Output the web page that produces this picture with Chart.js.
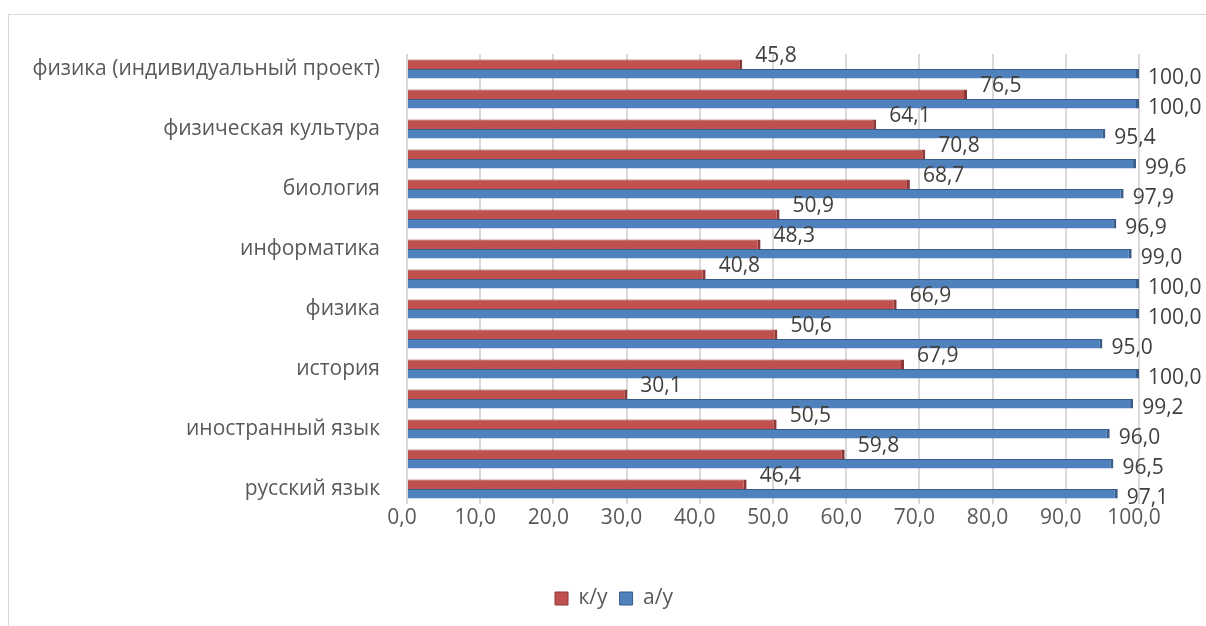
<!DOCTYPE html>
<html>
<head>
<meta charset="utf-8">
<script src="https://cdn.jsdelivr.net/npm/chart.js@4.4.1/dist/chart.umd.min.js"></script>
<style>
  html, body { margin: 0; padding: 0; background: #fff; }
  #wrap { width: 1206px; height: 626px; position: relative; }
</style>
</head>
<body>
<div id="wrap"><canvas id="chart" width="1206" height="626"></canvas></div>
<script>
// Категории снизу вверх (подписаны через одну, как в исходнике)
const categories = [
    'русский язык', '', 'иностранный язык', '', 'история', '', 'физика', '',
    'информатика', '', 'биология', '', 'физическая культура', '', 'физика (индивидуальный проект)'
];
const kuValues = [46.4, 59.8, 50.5, 30.1, 67.9, 50.6, 66.9, 40.8, 48.3, 50.9, 68.7, 70.8, 64.1, 76.5, 45.8];
const auValues = [97.1, 96.5, 96.0, 99.2, 100.0, 95.0, 100.0, 100.0, 99.0, 96.9, 97.9, 99.6, 95.4, 100.0, 100.0];
const seriesNames = ['к/у', 'а/у'];

const FONT = '"Open Sans", "Noto Sans", sans-serif';
const FSIZE = 21;
const fmt = v => Number(v).toFixed(1).replace('.', ',');

// рамка вокруг диаграммы
const framePlugin = {
    id: 'frame',
    beforeDraw(chart) {
        const c = chart.ctx;
        c.save();
        c.strokeStyle = '#d9d9d9';
        c.lineWidth = 1;
        c.strokeRect(8.5, 14.5, 1400, 800);
        c.restore();
    }
};

// подписи значений у концов столбиков
const valueLabels = {
    id: 'valueLabels',
    afterDatasetsDraw(chart) {
        const c = chart.ctx;
        c.save();
        c.font = FSIZE + 'px ' + FONT;
        c.fillStyle = '#404040';
        c.textBaseline = 'middle';
        c.textAlign = 'left';
        chart.data.datasets.forEach((ds, i) => {
            const meta = chart.getDatasetMeta(i);
            meta.data.forEach((el, j) => {
                const dx = i === 0 ? 13 : 9;
                const dy = i === 0 ? -8 : 4;
                c.fillText(fmt(ds.data[j]), el.x + dx, el.y + dy);
            });
        });
        c.restore();
    }
};

new Chart(document.getElementById('chart'), {
    type: 'bar',
    data: {
        labels: categories,
        datasets: [{
            label: seriesNames[0],
            data: kuValues,
            yAxisID: 'y',
            backgroundColor: '#c0504d',
            borderColor: '#8c3836',
            borderWidth: { top: 1, right: 3, bottom: 0, left: 0 },
            borderSkipped: false
        }, {
            label: seriesNames[1],
            data: auValues,
            yAxisID: 'y',
            backgroundColor: '#4f81bd',
            borderColor: '#385d8a',
            borderWidth: { top: 1, right: 3, bottom: 0, left: 0 },
            borderSkipped: false
        }]
    },
    options: {
        indexAxis: 'y',
        responsive: false,
        animation: false,
        devicePixelRatio: 1,
        categoryPercentage: 0.63,
        barPercentage: 1,
        layout: { padding: { top: 54, right: 0, bottom: 7, left: 22 } },
        scales: {
            x: {
                min: 0,
                max: 100,
                ticks: {
                    stepSize: 10,
                    callback: v => fmt(v),
                    color: '#595959',
                    font: { family: FONT, size: FSIZE },
                    padding: 1,
                    labelOffset: -5,
                    maxRotation: 0
                },
                grid: { color: '#d9d9d9', lineWidth: 2, drawTicks: false },
                border: { display: false },
                afterFit: s => { s.height = 72; }
            },
            y: {
                reverse: true,
                ticks: {
                    autoSkip: false,
                    color: '#595959',
                    font: { family: FONT, size: FSIZE },
                    padding: 27
                },
                grid: { display: false, drawTicks: false },
                border: { display: false },
                afterFit: s => { s.width = 385; }
            },
            // пустое поле справа под подписи значений
            yRight: {
                type: 'linear',
                position: 'right',
                ticks: { display: false },
                grid: { display: false, drawTicks: false },
                border: { display: false },
                afterFit: s => { s.width = 67; }
            }
        },
        plugins: {
            legend: {
                position: 'bottom',
                labels: {
                    boxWidth: 13,
                    boxHeight: 13,
                    padding: 12,
                    color: '#595959',
                    font: { family: FONT, size: FSIZE }
                }
            },
            tooltip: { enabled: false }
        }
    },
    plugins: [framePlugin, valueLabels]
});
</script>
</body>
</html>
